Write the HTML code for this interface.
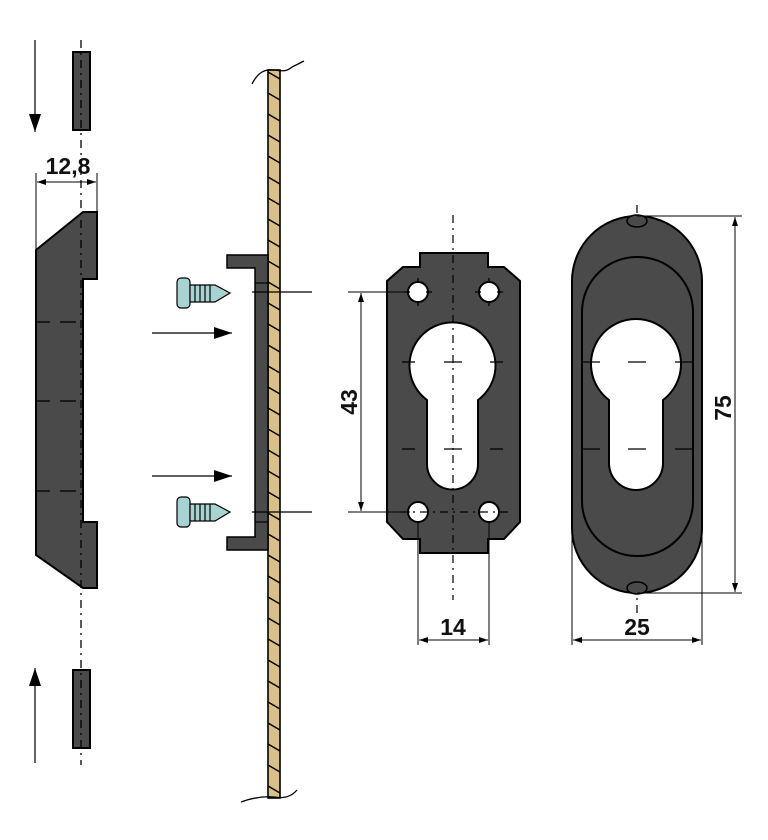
<!DOCTYPE html>
<html><head><meta charset="utf-8"><style>
html,body{margin:0;padding:0;background:#fff;}
svg{display:block;}
text{font-family:"Liberation Sans",sans-serif;font-weight:bold;font-size:23px;fill:#111;}
</style></head><body>
<svg width="768" height="840" viewBox="0 0 768 840" xmlns="http://www.w3.org/2000/svg">
<defs>
<marker id="big" markerWidth="18" markerHeight="12" refX="18" refY="6" orient="auto" markerUnits="userSpaceOnUse"><path d="M0,0 L18,6 L0,12 z" fill="#000"/></marker>
<marker id="da" markerWidth="9" markerHeight="6" refX="9" refY="3" orient="auto-start-reverse" markerUnits="userSpaceOnUse"><path d="M0,0 L9,3 L0,6 z" fill="#000"/></marker>
</defs>
<g stroke="#000" stroke-width="1.2" fill="none">
<line x1="35" y1="40" x2="35" y2="132" marker-end="url(#big)"/>
<line x1="35" y1="763" x2="35" y2="668" marker-end="url(#big)"/>
</g>
<rect x="73" y="52" width="17" height="78" fill="#4a4a4a" stroke="#000" stroke-width="2"/>
<rect x="73" y="670" width="17" height="78" fill="#4a4a4a" stroke="#000" stroke-width="2"/>
<path d="M36,250 L83,212 L97,212 L97,279 L83,279 L83,522 L97,522 L97,588 L83,588 L36,555 Z" fill="#4a4a4a" stroke="#000" stroke-width="2"/>
<line x1="81" y1="40" x2="81" y2="765" stroke="#000" stroke-width="1.3" stroke-dasharray="8,5,2,5"/>
<g stroke="#000" stroke-width="1.3">
<line x1="36" y1="322" x2="50" y2="322"/><line x1="60" y1="322" x2="76" y2="322"/>
<line x1="36" y1="401" x2="50" y2="401"/><line x1="60" y1="401" x2="76" y2="401"/>
<line x1="36" y1="491" x2="50" y2="491"/><line x1="60" y1="491" x2="76" y2="491"/>
</g>
<g stroke="#000" stroke-width="1">
<line x1="36" y1="173" x2="36" y2="250"/><line x1="97" y1="173" x2="97" y2="212"/>
<line x1="37" y1="182" x2="96" y2="182" marker-start="url(#da)" marker-end="url(#da)"/>
</g>
<text x="68" y="174" text-anchor="middle">12,8</text>
<rect x="268" y="70" width="12" height="728" fill="#d9bf8a" stroke="#000" stroke-width="1.6"/>
<g stroke="#000" stroke-width="1.4">
<line x1="268" y1="72" x2="280" y2="79"/><line x1="268" y1="93" x2="280" y2="100"/><line x1="268" y1="114" x2="280" y2="121"/><line x1="268" y1="135" x2="280" y2="142"/><line x1="268" y1="156" x2="280" y2="163"/><line x1="268" y1="177" x2="280" y2="184"/><line x1="268" y1="198" x2="280" y2="205"/><line x1="268" y1="219" x2="280" y2="226"/><line x1="268" y1="240" x2="280" y2="247"/><line x1="268" y1="261" x2="280" y2="268"/><line x1="268" y1="282" x2="280" y2="289"/><line x1="268" y1="303" x2="280" y2="310"/><line x1="268" y1="324" x2="280" y2="331"/><line x1="268" y1="345" x2="280" y2="352"/><line x1="268" y1="366" x2="280" y2="373"/><line x1="268" y1="387" x2="280" y2="394"/><line x1="268" y1="408" x2="280" y2="415"/><line x1="268" y1="429" x2="280" y2="436"/><line x1="268" y1="450" x2="280" y2="457"/><line x1="268" y1="471" x2="280" y2="478"/><line x1="268" y1="492" x2="280" y2="499"/><line x1="268" y1="513" x2="280" y2="520"/><line x1="268" y1="534" x2="280" y2="541"/><line x1="268" y1="555" x2="280" y2="562"/><line x1="268" y1="576" x2="280" y2="583"/><line x1="268" y1="597" x2="280" y2="604"/><line x1="268" y1="618" x2="280" y2="625"/><line x1="268" y1="639" x2="280" y2="646"/><line x1="268" y1="660" x2="280" y2="667"/><line x1="268" y1="681" x2="280" y2="688"/><line x1="268" y1="702" x2="280" y2="709"/><line x1="268" y1="723" x2="280" y2="730"/><line x1="268" y1="744" x2="280" y2="751"/><line x1="268" y1="765" x2="280" y2="772"/><line x1="268" y1="786" x2="280" y2="793"/>
</g>
<path d="M252,84 C258,72 265,69 274,70 C283,71 286,72 292,67 L304,61" stroke="#000" stroke-width="1.3" fill="none"/>
<path d="M241,802 C252,798 262,796 274,797 C285,799 292,796 297,790" stroke="#000" stroke-width="1.3" fill="none"/>
<path d="M227,255 L268,255 L268,550 L227,550 L227,537 L255,537 L255,268 L227,268 Z" fill="#4a4a4a" stroke="#000" stroke-width="1.5"/>
<line x1="255" y1="283" x2="268" y2="283" stroke="#000" stroke-width="1.2"/>
<line x1="255" y1="522" x2="268" y2="522" stroke="#000" stroke-width="1.2"/>
<g stroke="#000" stroke-width="1.2" fill="#a9d2d2">
<rect x="177" y="278" width="13" height="30" rx="4"/>
<path d="M190,285 L215,285 L230,293 L215,302 L190,302 Z"/>
<line x1="195" y1="285" x2="195" y2="302"/><line x1="200" y1="285" x2="200" y2="302"/><line x1="205" y1="285" x2="205" y2="302"/><line x1="210" y1="285" x2="210" y2="302"/>
<rect x="177" y="497" width="13" height="30" rx="4"/>
<path d="M190,504 L215,504 L230,512 L215,521 L190,521 Z"/>
<line x1="195" y1="504" x2="195" y2="521"/><line x1="200" y1="504" x2="200" y2="521"/><line x1="205" y1="504" x2="205" y2="521"/><line x1="210" y1="504" x2="210" y2="521"/>
</g>
<g stroke="#000" stroke-width="1.2">
<line x1="152" y1="333" x2="232" y2="333" marker-end="url(#big)"/>
<line x1="152" y1="476" x2="232" y2="476" marker-end="url(#big)"/>
<line x1="252" y1="292" x2="312" y2="292"/>
<line x1="252" y1="512" x2="312" y2="512"/>
</g>
<path d="M420,253 L488,253 L488,267 L504,267 L520,281 L520,522 L504,539 L488,539 L488,553 L420,553 L420,539 L403,539 L387,522 L387,281 L403,267 L420,267 Z" fill="#4a4a4a" stroke="#000" stroke-width="2"/>
<path d="M427,400 A43,43 0 1 1 478,400 L478,464 A25.5,25.5 0 0 1 427,464 Z" fill="#fff" stroke="#000" stroke-width="2"/>
<g fill="#fff" stroke="#000" stroke-width="2">
<circle cx="418" cy="292" r="10"/><circle cx="489" cy="292" r="10"/>
<circle cx="418" cy="512" r="10"/><circle cx="489" cy="512" r="10"/>
</g>
<g stroke="#000" stroke-width="1.2" stroke-dasharray="8,5,2,5">
<line x1="453" y1="215" x2="453" y2="600"/>
<line x1="637" y1="205" x2="637" y2="615"/>
<line x1="400" y1="512" x2="512" y2="512"/>
</g>
<g stroke="#000" stroke-width="1.3">
<line x1="402" y1="362" x2="415" y2="362"/><line x1="444" y1="362" x2="462" y2="362"/><line x1="490" y1="362" x2="503" y2="362"/>
<line x1="402" y1="449" x2="415" y2="449"/><line x1="444" y1="449" x2="462" y2="449"/><line x1="490" y1="449" x2="503" y2="449"/>
<line x1="404" y1="292" x2="410" y2="292"/><line x1="426" y1="292" x2="432" y2="292"/><line x1="475" y1="292" x2="481" y2="292"/><line x1="497" y1="292" x2="503" y2="292"/>
<line x1="418" y1="278" x2="418" y2="283"/><line x1="418" y1="301" x2="418" y2="306"/><line x1="489" y1="278" x2="489" y2="283"/><line x1="489" y1="301" x2="489" y2="306"/>
</g>
<g stroke="#000" stroke-width="1">
<line x1="348" y1="292" x2="410" y2="292"/><line x1="348" y1="512" x2="410" y2="512"/>
<line x1="361" y1="293" x2="361" y2="511" marker-start="url(#da)" marker-end="url(#da)"/>
<line x1="418" y1="522" x2="418" y2="645"/><line x1="489" y1="522" x2="489" y2="645"/>
<line x1="419" y1="640" x2="488" y2="640" marker-start="url(#da)" marker-end="url(#da)"/>
</g>
<text x="0" y="0" text-anchor="middle" transform="translate(357,402) rotate(-90)">43</text>
<text x="453" y="635" text-anchor="middle">14</text>
<rect x="572" y="216" width="130" height="377" rx="65" ry="65" fill="#4a4a4a" stroke="#000" stroke-width="2"/>
<rect x="582" y="257" width="111" height="299" rx="55" ry="55" fill="none" stroke="#000" stroke-width="2"/>
<path d="M609,400 A45,45 0 1 1 663,400 L663,463 A27,27 0 0 1 609,463 Z" fill="#fff" stroke="#000" stroke-width="2"/>
<ellipse cx="637" cy="221" rx="10" ry="6" fill="#4a4a4a" stroke="#000" stroke-width="1.5"/>
<ellipse cx="637" cy="588" rx="10" ry="6" fill="#4a4a4a" stroke="#000" stroke-width="1.5"/>
<g stroke="#000" stroke-width="1.3">
<line x1="582" y1="362" x2="600" y2="362"/><line x1="628" y1="362" x2="646" y2="362"/><line x1="675" y1="362" x2="693" y2="362"/>
<line x1="582" y1="449" x2="600" y2="449"/><line x1="628" y1="449" x2="646" y2="449"/><line x1="675" y1="449" x2="693" y2="449"/>
</g>
<g stroke="#000" stroke-width="1">
<line x1="637" y1="216" x2="742" y2="216"/><line x1="637" y1="593" x2="742" y2="593"/>
<line x1="735" y1="217" x2="735" y2="592" marker-start="url(#da)" marker-end="url(#da)"/>
<line x1="572" y1="420" x2="572" y2="645"/><line x1="702" y1="420" x2="702" y2="645"/>
<line x1="573" y1="640" x2="701" y2="640" marker-start="url(#da)" marker-end="url(#da)"/>
</g>
<text x="0" y="0" text-anchor="middle" transform="translate(731,408) rotate(-90)">75</text>
<text x="637" y="635" text-anchor="middle">25</text>
</svg>
</body></html>
